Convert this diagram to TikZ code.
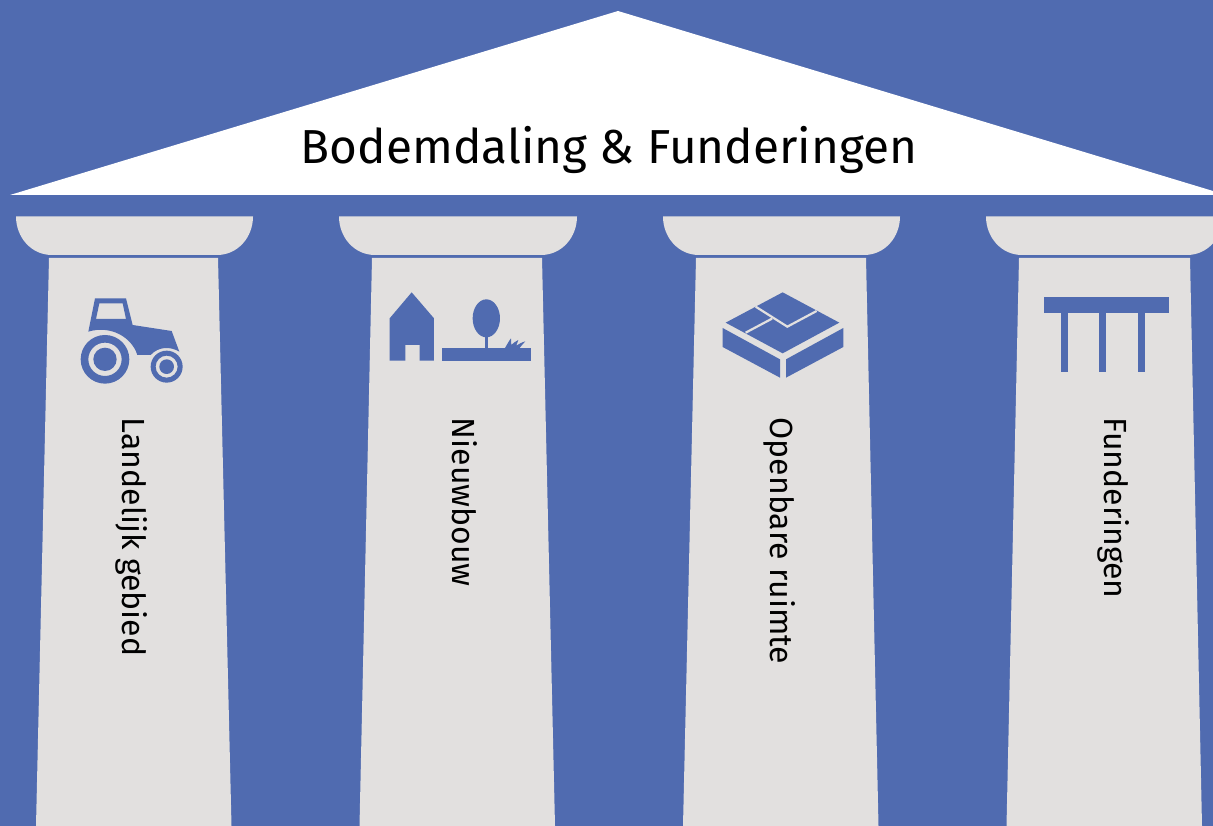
\documentclass[tikz,border=0pt]{standalone}
\usepackage{fontspec}
\setmainfont{Fira Sans}
\definecolor{templeblue}{HTML}{506BB0}
\definecolor{stonegrey}{HTML}{E2E0DF}
\tikzset{
  stone/.style={fill=stonegrey, draw=none},
  icon/.style={fill=templeblue, draw=none},
  pillartext/.style={anchor=base west, rotate=-90, inner sep=0pt, font=\fontsize{32}{32}\selectfont, text=black},
}
\begin{document}
\begin{tikzpicture}[x=1pt, y=-1pt]
% Background and roof
\clip (0, 0) rectangle (1213, 826);
\fill[templeblue] (0, 0) rectangle (1213, 826);
\fill[white] (10, 195) -- (618, 11) -- (1213, 191) -- (1213, 195) -- cycle;
\node[anchor=base, inner sep=0pt, font=\fontsize{47.7}{47.7}\selectfont, text=black] (title) at (609, 163.7) {Bodemdaling \& Funderingen};

% Capitals
\fill[stone] (16, 216.5) -- (253, 216.5) .. controls (253, 237) and (238, 255) .. (217, 255) -- (52, 255) .. controls (31, 255) and (16, 237) .. (16, 216.5) -- cycle;
\fill[stone] (339, 216.5) -- (577, 216.5) .. controls (577, 237) and (562, 255) .. (541, 255) -- (375, 255) .. controls (354, 255) and (339, 237) .. (339, 216.5) -- cycle;
\fill[stone] (663, 216.5) -- (900, 216.5) .. controls (900, 237) and (885, 255) .. (864, 255) -- (699, 255) .. controls (678, 255) and (663, 237) .. (663, 216.5) -- cycle;
\fill[stone] (986, 216.5) -- (1223, 216.5) .. controls (1223, 237) and (1208, 255) .. (1187, 255) -- (1022, 255) .. controls (1001, 255) and (986, 237) .. (986, 216.5) -- cycle;

% Shafts
\fill[stone] (49, 258) -- (218, 258) -- (231.5, 826) -- (36, 826) -- cycle;
\fill[stone] (372, 258) -- (542, 258) -- (555, 826) -- (359.5, 826) -- cycle;
\fill[stone] (696, 258) -- (866, 258) -- (878.5, 826) -- (683, 826) -- cycle;
\fill[stone] (1019, 258) -- (1190, 258) -- (1202, 826) -- (1006.5, 826) -- cycle;

% Pillar labels
\node[pillartext] (landelijk) at (122, 417.5) {Landelijk gebied};
\node[pillartext] (nieuwbouw) at (452, 417.5) {Nieuwbouw};
\node[pillartext] (openbaar) at (770, 417.5) {Openbare ruimte};
\node[pillartext] (funderingen) at (1104, 417.5) {Funderingen};

% Tractor
\begin{scope}[shift={(60, 280)}, x=0.3333pt, y=-0.3333pt]
\fill[icon, even odd rule] (85, 155) -- (105, 55) -- (198, 55) -- (218, 135) -- (335, 153) -- (358, 215)
  .. controls (330, 198) and (295, 200) .. (272, 225) -- (232, 225)
  .. controls (215, 170) and (150, 135) .. (85, 155) -- cycle
  (118, 70) -- (188, 70) -- (198, 117) -- (108, 117) -- cycle;
\fill[icon, even odd rule] (135, 238) circle[radius=73] (135, 238) circle[radius=50];
\fill[icon] (135, 238) circle[radius=35];
\fill[icon, even odd rule] (320, 260) circle[radius=48] (320, 260) circle[radius=33];
\fill[icon] (320, 260) circle[radius=22];
\end{scope}

% House, tree and grass
\begin{scope}[shift={(375, 280)}, x=0.3333pt, y=-0.3333pt]
\fill[icon] (44, 115) -- (110, 37) -- (177, 115) -- (177, 242) -- (134, 242) -- (134, 195) -- (91, 195) -- (91, 242) -- (44, 242) -- cycle;
\fill[icon] (201, 204) rectangle (468, 242);
\fill[icon] (334, 115) ellipse[x radius=41, y radius=57];
\fill[icon] (329, 165) rectangle (339, 204);
\fill[icon] (390, 204) .. controls (396, 195) and (400, 185) .. (408, 175) -- (409, 195) .. controls (415, 190) and (420, 184) .. (430, 180) -- (424, 197) .. controls (432, 192) and (440, 187) .. (451, 184) .. controls (444, 192) and (438, 198) .. (434, 204) -- cycle;
\end{scope}

% Paving
\begin{scope}[shift={(710, 280)}, x=0.3333pt, y=-0.3333pt]
\fill[icon] (218, 37) -- (388, 128) -- (218, 220) -- (47, 128) -- cycle;
\draw[stonegrey, line width=2.2pt] (137, 80) -- (232, 140) -- (320, 93);
\draw[stonegrey, line width=2.2pt] (186, 116) -- (107, 158);
\fill[icon] (38, 144) -- (210, 238) -- (210, 293) -- (38, 201) -- cycle;
\fill[icon] (228, 238) -- (400, 144) -- (400, 201) -- (228, 293) -- cycle;
\end{scope}

% Foundation
\begin{scope}[shift={(1030, 285)}, x=0.3333pt, y=-0.3333pt]
\fill[icon] (42, 36) rectangle (417, 84);
\fill[icon] (93, 84) rectangle (114, 261);
\fill[icon] (207, 84) rectangle (228, 261);
\fill[icon] (324, 84) rectangle (345, 261);
\end{scope}
\end{tikzpicture}
\end{document}
